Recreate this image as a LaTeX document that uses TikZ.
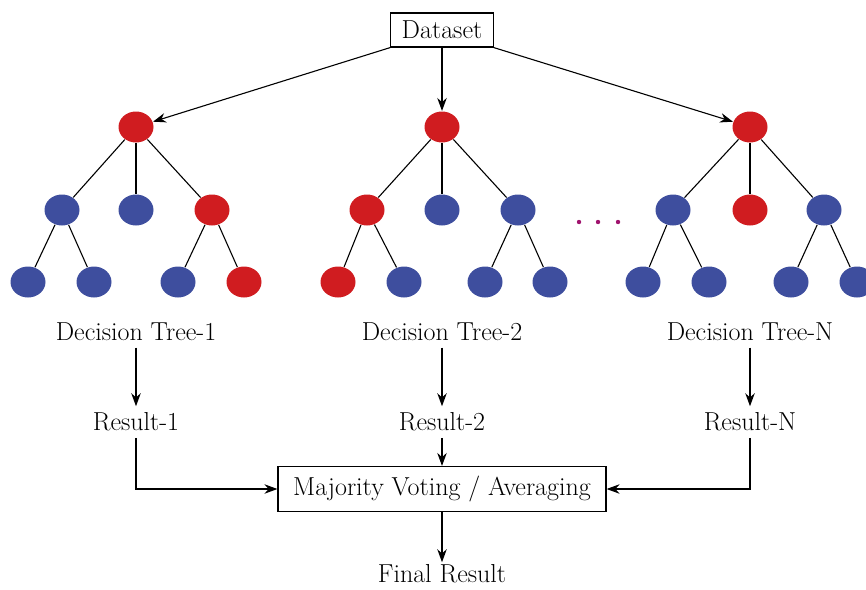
\documentclass[tikz,border=0pt]{standalone}
\usepackage{fontspec}
\usetikzlibrary{shapes.geometric,arrows.meta}
\definecolor{treered}{RGB}{208,28,32}
\definecolor{treeblue}{RGB}{62,78,158}
\definecolor{dotpurple}{RGB}{160,20,110}
\begin{document}
\begin{tikzpicture}[x=1pt, y=-1pt, >={Stealth[length=13pt, width=9.5pt]}, line width=1.1pt,
    every node/.style={font=\fontsize{26}{30}\selectfont},
    box/.style={draw, line width=1.2pt, inner xsep=11pt},
    txt/.style={inner ysep=6pt},
    vertex/.style={ellipse, minimum width=35pt, minimum height=31pt, inner sep=0pt}]
  \useasboundingbox (0,0) rectangle (866,589);
  \clip (0,0) rectangle (866,589);
  \node[box, minimum height=34pt] (data) at (442,30) {Dataset};
  % the three trees
  \foreach \p/\n/\c in {(136,127)/t1/treered, (62,210)/t1l/treeblue, (136,210)/t1m/treeblue,
                         (212,210)/t1r/treered, (28,282)/t1ll/treeblue, (94,282)/t1lr/treeblue,
                         (178,282)/t1rl/treeblue, (244,282)/t1rr/treered,
                         (442,127)/t2/treered, (367,210)/t2l/treered, (442,210)/t2m/treeblue,
                         (518,210)/t2r/treeblue, (338,282)/t2ll/treered, (404,282)/t2lr/treeblue,
                         (485,282)/t2rl/treeblue, (550,282)/t2rr/treeblue,
                         (750,127)/t3/treered, (673,210)/t3l/treeblue, (750,210)/t3m/treered,
                         (824,210)/t3r/treeblue, (643,282)/t3ll/treeblue, (709,282)/t3lr/treeblue,
                         (791,282)/t3rl/treeblue, (857,282)/t3rr/treeblue}
    { \node[vertex, fill=\c] (\n) at \p {}; }
  \foreach \i in {1,2,3}
    { \foreach \a/\b in {/l, /m, /r, l/ll, l/lr, r/rl, r/rr}
        { \draw (t\i\a) -- (t\i\b); } }
  \foreach \x in {579, 598, 618}
    { \fill[dotpurple] (\x,222) circle (2.2pt); }
  \draw[->] (data.south west) -- (t1);
  \draw[->] (data) -- (t2);
  \draw[->] (data.south east) -- (t3);
  % labels and results
  \foreach \i/\x/\n in {1/136/1, 2/442/2, 3/750/N}
    { \node[txt] (dt\i) at (\x,332) {Decision Tree-\n};
      \node[txt] (res\i) at (\x,422) {Result-\n};
      \draw[->] (dt\i) -- (res\i); }
  \node[box, minimum width=328pt, minimum height=45pt] (vote) at (442,489) {Majority Voting / Averaging};
  \node[txt, inner ysep=2pt] (final) at (442,574) {Final Result};
  \draw[->] (res1) |- (vote.west);
  \draw[->] (res3) |- (vote.east);
  \draw[->] (res2) -- (vote);
  \draw[->] (vote) -- (final);
\end{tikzpicture}
\end{document}
